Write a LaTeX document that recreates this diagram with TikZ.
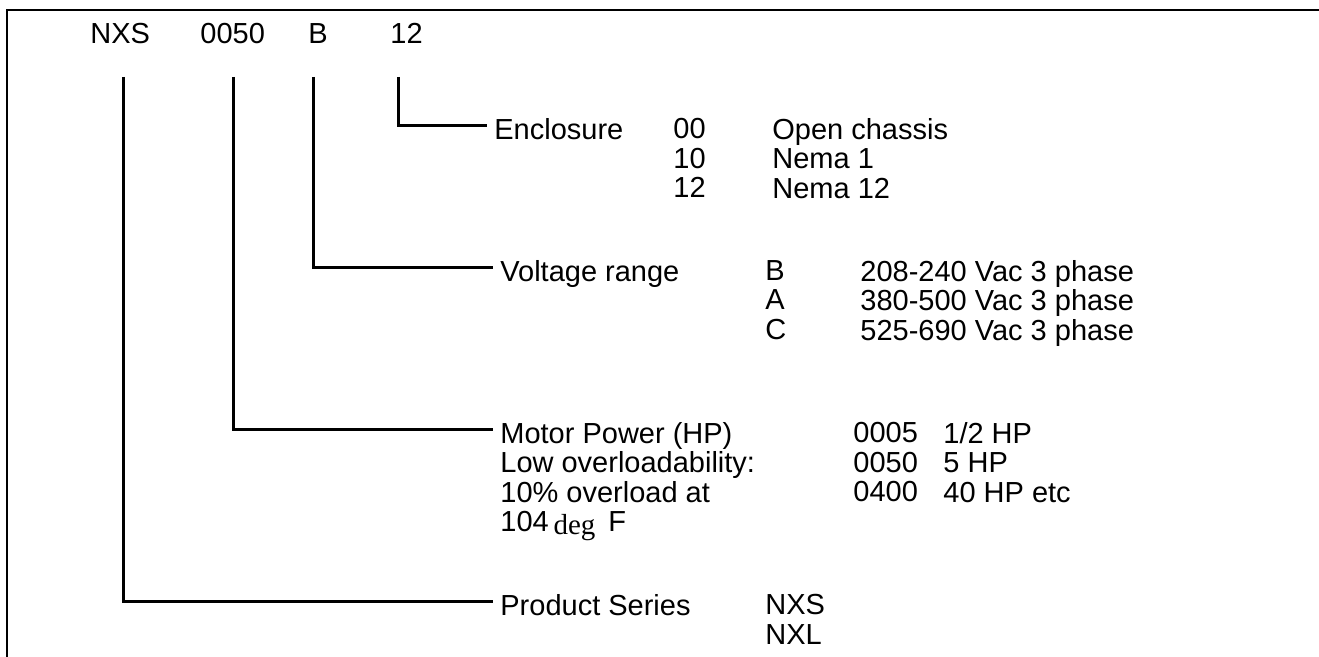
\documentclass[tikz,border=0pt]{standalone}
\usepackage{fontspec}
\setmainfont{Liberation Sans}
\newfontfamily\degfont{Liberation Serif}
\usetikzlibrary{positioning}

\tikzset{
  txt/.style={inner sep=0pt, anchor=north west, align=left},
  lbl/.style={txt, inner xsep=3.5pt},
  lead/.style={line width=1.5pt},
}

\begin{document}
\begin{tikzpicture}[x=0.5pt,y=-0.5pt,font=\fontsize{14.5}{14.75}\selectfont]
        \useasboundingbox (0,0) rectangle (1319,657);
        \draw[line width=1pt] (1319,10) -- (7,10) -- (7,657);
        % type code
        \node[txt,anchor=base west] (cSeries) at (90,44) {NXS};
        \node[txt,anchor=base west] (cPower) at (200,44) {0050};
        \node[txt,anchor=base west] (cVolt) at (308,44) {B};
        \node[txt,anchor=base west] (cEncl) at (390,44) {12};
        \coordinate (tSeries) at (123,77); \coordinate (tPower) at (233,77);
        \coordinate (tVolt) at (313,77); \coordinate (tEncl) at (398,77);
        % enclosure
        \node[lbl] (lEncl) at (487,118) {Enclosure};
        \node[txt] (kEncl) at (673,118) {00\\10\\12};
        \node[txt] (dEncl) at (772,118) {Open chassis\\Nema 1\\Nema 12};
        % voltage
        \node[lbl] (lVolt) at (493,260) {Voltage range};
        \node[txt] (kVolt) at (765,260) {B\\A\\C};
        \node[txt] (dVolt) at (860,260) {208-240 Vac 3 phase\\380-500 Vac 3 phase\\525-690 Vac 3 phase};
        % power
        \node[lbl] (lPower) at (493,422) {Motor Power (HP)\\Low overloadability:\\10\% overload at\\104\,\raisebox{-1.5pt}{\degfont deg}\, F};
        \node[txt] (kPower) at (853,422) {0005\\0050\\0400};
        \node[txt] (dPower) at (943,422) {1/2 HP\\5 HP\\40 HP etc};
        % series
        \node[lbl] (lSeries) at (493,594) {Product Series};
        \node[txt] (kSeries) at (765,594) {NXS\\NXL};
        \draw[lead] (tEncl) |- ([yshift=-0.36em]lEncl.north west);
        \draw[lead] (tVolt) |- ([yshift=-0.36em]lVolt.north west);
        \draw[lead] (tPower) |- ([yshift=-0.36em]lPower.north west);
        \draw[lead] (tSeries) |- ([yshift=-0.36em]lSeries.north west);
\end{tikzpicture}
\end{document}
